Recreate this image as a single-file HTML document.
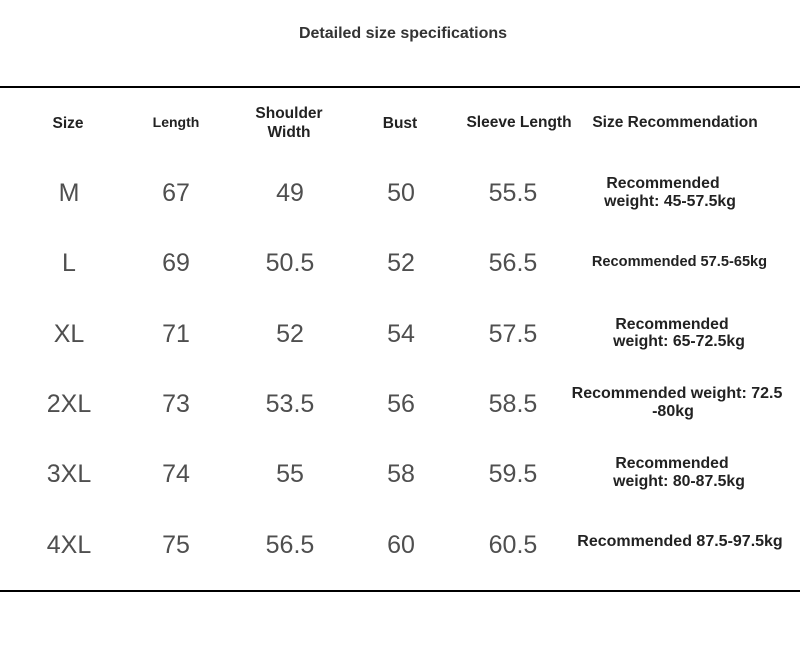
<!DOCTYPE html>
<html>
<head>
<meta charset="utf-8">
<style>
  html,body{margin:0;padding:0;background:#fff;}
  body{width:800px;height:668px;position:relative;overflow:hidden;font-family:"Liberation Sans","DejaVu Sans",sans-serif;}
  .t{position:absolute;width:400px;text-align:center;white-space:nowrap;line-height:1;}
  .h{font-weight:bold;color:#222;font-size:15.5px;}
  .n{color:#4f4f4f;font-size:25px;}
  .r{font-weight:bold;color:#222;font-size:15.8px;}
  .line{position:absolute;left:0;width:800px;background:#000;}
</style>
</head>
<body>
  <div class="t" style="left:203px;top:26px;font-size:16px;font-weight:bold;color:#333;">Detailed size specifications</div>

  <div class="line" style="top:86px;height:2px;"></div>
  <div class="line" style="top:590px;height:2px;"></div>

  <!-- headers -->
  <div class="t h" style="left:-132px;top:116px;">Size</div>
  <div class="t h" style="left:-24px;top:115px;font-size:14px;">Length</div>
  <div class="t h" style="left:89px;top:106px;">Shoulder</div>
  <div class="t h" style="left:89px;top:125px;">Width</div>
  <div class="t h" style="left:200px;top:116px;">Bust</div>
  <div class="t h" style="left:319px;top:114.5px;">Sleeve Length</div>
  <div class="t h" style="left:475px;top:115px;">Size Recommendation</div>

  <!-- row M -->
  <div class="t n" style="left:-131px;top:181px;">M</div>
  <div class="t n" style="left:-24px;top:181px;">67</div>
  <div class="t n" style="left:90px;top:181px;">49</div>
  <div class="t n" style="left:201px;top:181px;">50</div>
  <div class="t n" style="left:313px;top:181px;">55.5</div>
  <div class="t r" style="left:463px;top:176px;">Recommended</div>
  <div class="t r" style="left:470px;top:193.6px;">weight: 45-57.5kg</div>

  <!-- row L -->
  <div class="t n" style="left:-131px;top:251px;">L</div>
  <div class="t n" style="left:-24px;top:251px;">69</div>
  <div class="t n" style="left:90px;top:251px;">50.5</div>
  <div class="t n" style="left:201px;top:251px;">52</div>
  <div class="t n" style="left:313px;top:251px;">56.5</div>
  <div class="t r" style="left:479.5px;top:254.6px;font-size:14.6px;">Recommended 57.5-65kg</div>

  <!-- row XL -->
  <div class="t n" style="left:-131px;top:321.5px;">XL</div>
  <div class="t n" style="left:-24px;top:321.5px;">71</div>
  <div class="t n" style="left:90px;top:321.5px;">52</div>
  <div class="t n" style="left:201px;top:321.5px;">54</div>
  <div class="t n" style="left:313px;top:321.5px;">57.5</div>
  <div class="t r" style="left:472px;top:316.5px;">Recommended</div>
  <div class="t r" style="left:479px;top:334.1px;">weight: 65-72.5kg</div>

  <!-- row 2XL -->
  <div class="t n" style="left:-131px;top:392px;">2XL</div>
  <div class="t n" style="left:-24px;top:392px;">73</div>
  <div class="t n" style="left:90px;top:392px;">53.5</div>
  <div class="t n" style="left:201px;top:392px;">56</div>
  <div class="t n" style="left:313px;top:392px;">58.5</div>
  <div class="t r" style="left:477px;top:385.5px;font-size:16px;">Recommended weight: 72.5</div>
  <div class="t r" style="left:473px;top:403.5px;font-size:16px;">-80kg</div>

  <!-- row 3XL -->
  <div class="t n" style="left:-131px;top:462px;">3XL</div>
  <div class="t n" style="left:-24px;top:462px;">74</div>
  <div class="t n" style="left:90px;top:462px;">55</div>
  <div class="t n" style="left:201px;top:462px;">58</div>
  <div class="t n" style="left:313px;top:462px;">59.5</div>
  <div class="t r" style="left:472px;top:455.6px;">Recommended</div>
  <div class="t r" style="left:479px;top:473.6px;">weight: 80-87.5kg</div>

  <!-- row 4XL -->
  <div class="t n" style="left:-131px;top:532.5px;">4XL</div>
  <div class="t n" style="left:-24px;top:532.5px;">75</div>
  <div class="t n" style="left:90px;top:532.5px;">56.5</div>
  <div class="t n" style="left:201px;top:532.5px;">60</div>
  <div class="t n" style="left:313px;top:532.5px;">60.5</div>
  <div class="t r" style="left:480px;top:533.5px;font-size:16px;">Recommended 87.5-97.5kg</div>
</body>
</html>
